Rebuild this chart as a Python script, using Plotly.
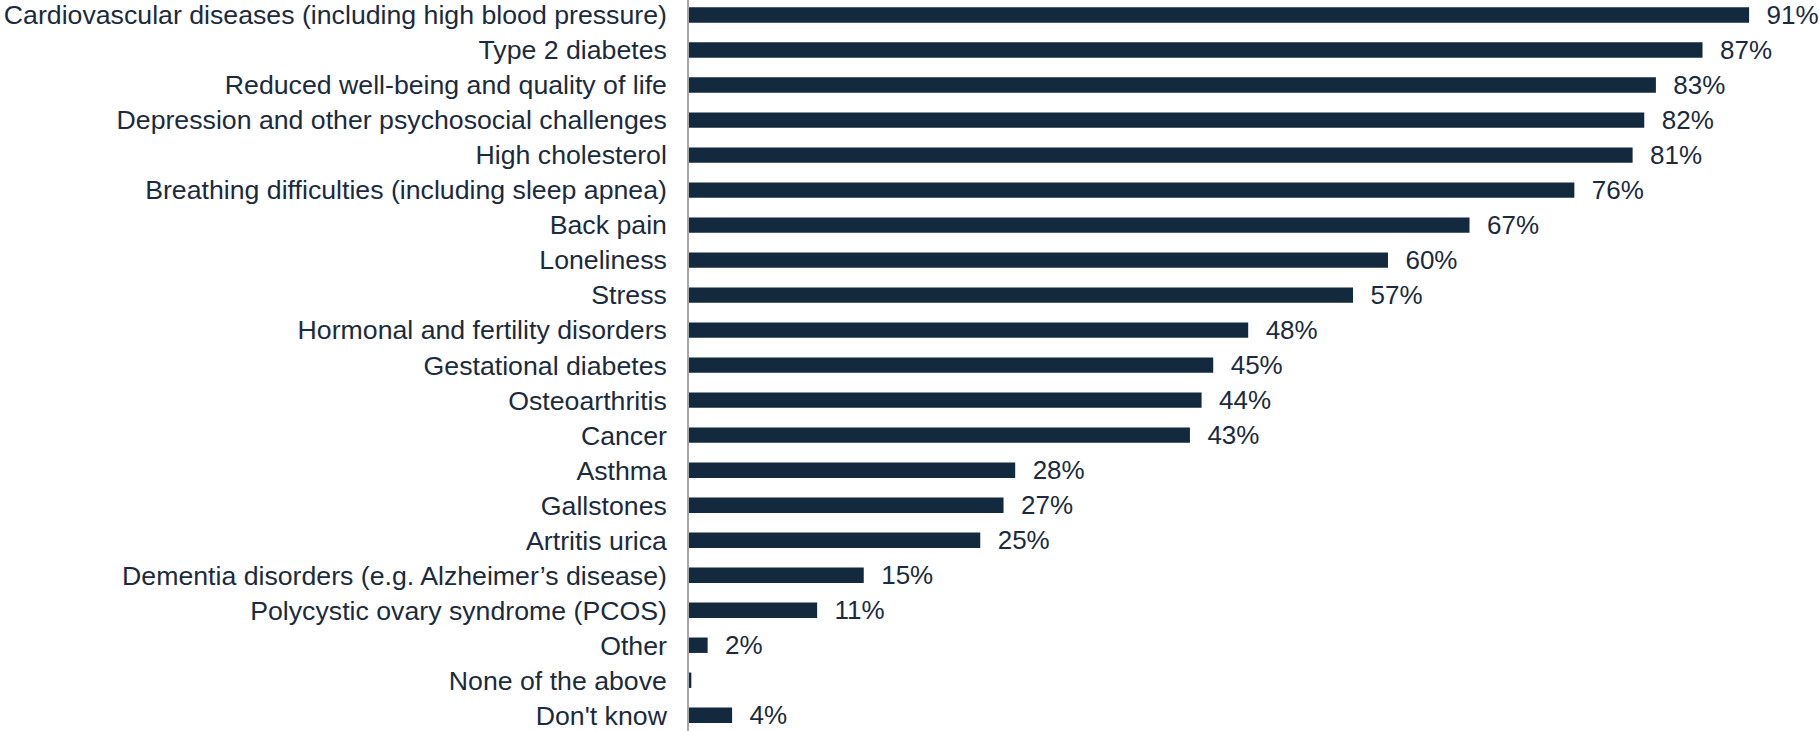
import plotly.graph_objects as go

categories = [
    "Cardiovascular diseases (including high blood pressure)",
    "Type 2 diabetes",
    "Reduced well-being and quality of life",
    "Depression and other psychosocial challenges",
    "High cholesterol",
    "Breathing difficulties (including sleep apnea)",
    "Back pain",
    "Loneliness",
    "Stress",
    "Hormonal and fertility disorders",
    "Gestational diabetes",
    "Osteoarthritis",
    "Cancer",
    "Asthma",
    "Gallstones",
    "Artritis urica",
    "Dementia disorders (e.g. Alzheimer’s disease)",
    "Polycystic ovary syndrome (PCOS)",
    "Other",
    "None of the above",
    "Don't know",
]
values = [91, 87, 83, 82, 81, 76, 67, 60, 57, 48, 45, 44, 43, 28, 27, 25, 15, 11, 1.6, 0.2, 3.7]

labels = ["\u00a0\u00a0" + f"{v:.0f}%" if v >= 1 else "" for v in values]

bar_color = "#13293d"
text_color = "#1b2b3d"
font_family = "Liberation Sans, Arial, sans-serif"

fig = go.Figure(
    go.Bar(
        x=values,
        y=categories,
        orientation="h",
        marker=dict(color=bar_color, line=dict(width=0)),
        width=0.44,
        text=labels,
        textposition="outside",
        constraintext="none",
        textfont=dict(size=26, color=text_color, family=font_family),
        cliponaxis=False,
    )
)

fig.update_layout(
    width=1819,
    height=731,
    margin=dict(l=689, r=0, t=0, b=0),
    plot_bgcolor="white",
    paper_bgcolor="white",
    showlegend=False,
    font=dict(family=font_family, color=text_color),
)
fig.update_xaxes(
    range=[0, 97],
    showgrid=False,
    zeroline=False,
    showticklabels=False,
    showline=False,
)
fig.update_yaxes(
    categoryorder="array",
    categoryarray=categories,
    range=[20.45, -0.43],
    showgrid=False,
    showline=True,
    linecolor="#a6a6a6",
    linewidth=1.5,
    ticks="",
    ticklabelstandoff=15,
    tickfont=dict(size=26.7, color=text_color, family=font_family),
    automargin=False,
)

# drop the browser's default 8px body margin so the figure fills the window
fig.write_html(
    "out.html",
    config={"displayModeBar": False},
    post_script="document.body.style.margin='0';document.body.style.overflow='hidden';",
)
